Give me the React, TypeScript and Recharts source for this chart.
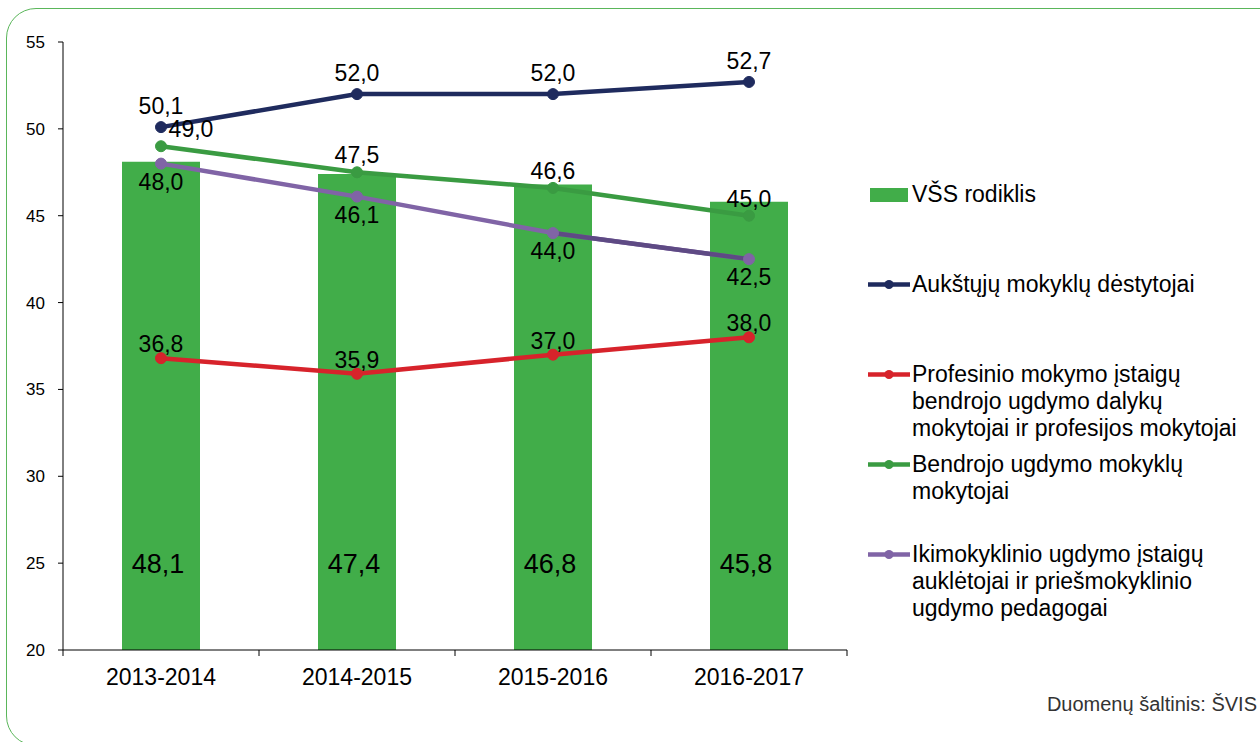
import React from "react";
import { ComposedChart, Bar, Line, XAxis, YAxis, LabelList } from "recharts";

// chart values
const years = ["2013-2014", "2014-2015", "2015-2016", "2016-2017"];
const vssRodiklis = [48.1, 47.4, 46.8, 45.8];
const aukstujuDestytojai = [50.1, 52.0, 52.0, 52.7];
const profesinioMokytojai = [36.8, 35.9, 37.0, 38.0];
const bendrojoMokytojai = [49.0, 47.5, 46.6, 45.0];
const ikimokyklinioPedagogai = [48.0, 46.1, 44.0, 42.5];
const yTicks = [20, 25, 30, 35, 40, 45, 50, 55];

const legendItems = [
  { name: "VŠS rodiklis", color: "#41ad49", kind: "bar" },
  { name: "Aukštųjų mokyklų dėstytojai", color: "#1f2b5e", kind: "line" },
  {
    name: "Profesinio mokymo įstaigų\nbendrojo ugdymo dalykų\nmokytojai ir profesijos mokytojai",
    color: "#d7232b",
    kind: "line",
  },
  { name: "Bendrojo ugdymo mokyklų\nmokytojai", color: "#3a9b42", kind: "line" },
  {
    name: "Ikimokyklinio ugdymo įstaigų\nauklėtojai ir priešmokyklinio\nugdymo pedagogai",
    color: "#8064a6",
    kind: "line",
  },
];

const data = years.map((year, i) => ({
  year,
  vss: vssRodiklis[i],
  aukst: aukstujuDestytojai[i],
  prof: profesinioMokytojai[i],
  bendr: bendrojoMokytojai[i],
  ikimok: ikimokyklinioPedagogai[i],
  // last segment of the purple line is drawn darker in the original
  ikimokTail: i >= 2 ? ikimokyklinioPedagogai[i] : null,
}));

const FONT = "'Liberation Sans', Arial, sans-serif";
const PLOT_BOTTOM = 650;
const HALF_BAND = 98;

const fmt = (v: number) => v.toFixed(1).replace(".", ",");

const XTick = (props: any) => {
  const { x, payload, index } = props;
  return (
    <g>
      <line x1={x - HALF_BAND} y1={PLOT_BOTTOM} x2={x - HALF_BAND} y2={PLOT_BOTTOM + 6} stroke="#000" />
      {index === years.length - 1 && (
        <line x1={x + HALF_BAND} y1={PLOT_BOTTOM} x2={x + HALF_BAND} y2={PLOT_BOTTOM + 6} stroke="#000" />
      )}
      <text x={x} y={PLOT_BOTTOM + 35} textAnchor="middle" fontSize={23} fill="#000" fontFamily={FONT}>
        {payload.value}
      </text>
    </g>
  );
};

const barLabel = (props: any) => {
  const { x, y, width, height, value } = props;
  return (
    <text
      x={x + width / 2 - 3}
      y={y + height - 86}
      textAnchor="middle"
      dominantBaseline="central"
      fontSize={27}
      fill="#000"
      fontFamily={FONT}
    >
      {fmt(value)}
    </text>
  );
};

const lineLabel = (dy: number, firstDx = 0) => (props: any) => {
  const { x, y, value, index } = props;
  if (value == null) return null;
  return (
    <text
      x={x + (index === 0 ? firstDx : 0)}
      y={y + dy}
      textAnchor="middle"
      dominantBaseline="central"
      fontSize={23}
      fill="#000"
      fontFamily={FONT}
    >
      {fmt(value)}
    </text>
  );
};

const dotStyle = (color: string) => ({ r: 5.5, fill: color, stroke: color, strokeWidth: 1 });

const ChartLegend = () => (
  <div style={{ position: "absolute", left: 866, top: 0, fontFamily: FONT, fontSize: 23, color: "#000" }}>
    {legendItems.map((item, i) => (
      <div key={item.name} style={{ position: "absolute", top: 194 + i * 90 - 13.5, left: 0, width: 394 }}>
        <svg width={44} height={27} style={{ position: "absolute", left: 0, top: 0 }}>
          {item.kind === "bar" ? (
            <rect x={4} y={7} width={38} height={14} fill={item.color} />
          ) : (
            <g>
              <line x1={2} y1={13.5} x2={44} y2={13.5} stroke={item.color} strokeWidth={4.5} />
              <circle cx={23} cy={13.5} r={4.5} fill={item.color} />
            </g>
          )}
        </svg>
        <div style={{ position: "absolute", left: 46, top: 0, lineHeight: "27px", whiteSpace: "pre" }}>
          {item.name}
        </div>
      </div>
    ))}
  </div>
);

export default function App() {
  return (
    <div
      style={{
        position: "absolute",
        left: 0,
        top: 0,
        width: 1260,
        height: 742,
        overflow: "hidden",
        background: "#fff",
        fontFamily: FONT,
      }}
    >
      <div
        style={{
          position: "absolute",
          left: 6,
          top: 8,
          width: 1300,
          height: 736,
          border: "1.5px solid #5ab65a",
          borderRadius: 30,
        }}
      />
      <div style={{ position: "absolute", left: 0, top: 0 }}>
        <ComposedChart width={1260} height={742} data={data} margin={{ top: 42, right: 413, bottom: 0, left: 0 }}>
          <XAxis
            dataKey="year"
            height={92}
            axisLine={{ stroke: "#000" }}
            tickLine={false}
            tick={<XTick />}
            interval={0}
          />
          <YAxis
            width={63}
            domain={[20, 55]}
            ticks={yTicks}
            interval={0}
            axisLine={{ stroke: "#000" }}
            tickLine={{ stroke: "#000" }}
            tickSize={5}
            tickMargin={13}
            tick={{ fontSize: 17, fill: "#000", fontFamily: FONT }}
          />
          <Bar dataKey="vss" barSize={78} fill="#41ad49" isAnimationActive={false}>
            <LabelList dataKey="vss" content={barLabel} />
          </Bar>
          <Line
            dataKey="aukst"
            type="linear"
            stroke="#1f2b5e"
            strokeWidth={4.5}
            dot={dotStyle("#1f2b5e")}
            isAnimationActive={false}
          >
            <LabelList dataKey="aukst" content={lineLabel(-21)} />
          </Line>
          <Line
            dataKey="prof"
            type="linear"
            stroke="#d7232b"
            strokeWidth={4.5}
            dot={dotStyle("#d7232b")}
            isAnimationActive={false}
          >
            <LabelList dataKey="prof" content={lineLabel(-14)} />
          </Line>
          <Line
            dataKey="bendr"
            type="linear"
            stroke="#3a9b42"
            strokeWidth={4.5}
            dot={dotStyle("#3a9b42")}
            isAnimationActive={false}
          >
            <LabelList dataKey="bendr" content={lineLabel(-17, 30)} />
          </Line>
          <Line
            dataKey="ikimok"
            type="linear"
            stroke="#8064a6"
            strokeWidth={4.5}
            dot={dotStyle("#8064a6")}
            isAnimationActive={false}
          >
            <LabelList dataKey="ikimok" content={lineLabel(18)} />
          </Line>
          <Line
            dataKey="ikimokTail"
            type="linear"
            stroke="#5e4a84"
            strokeWidth={4.5}
            dot={false}
            connectNulls={false}
            isAnimationActive={false}
          />
        </ComposedChart>
      </div>
      <ChartLegend />
      <div
        style={{
          position: "absolute",
          right: 3,
          top: 693,
          fontSize: 20,
          color: "#333",
          fontFamily: FONT,
        }}
      >
        Duomenų šaltinis: ŠVIS
      </div>
    </div>
  );
}
